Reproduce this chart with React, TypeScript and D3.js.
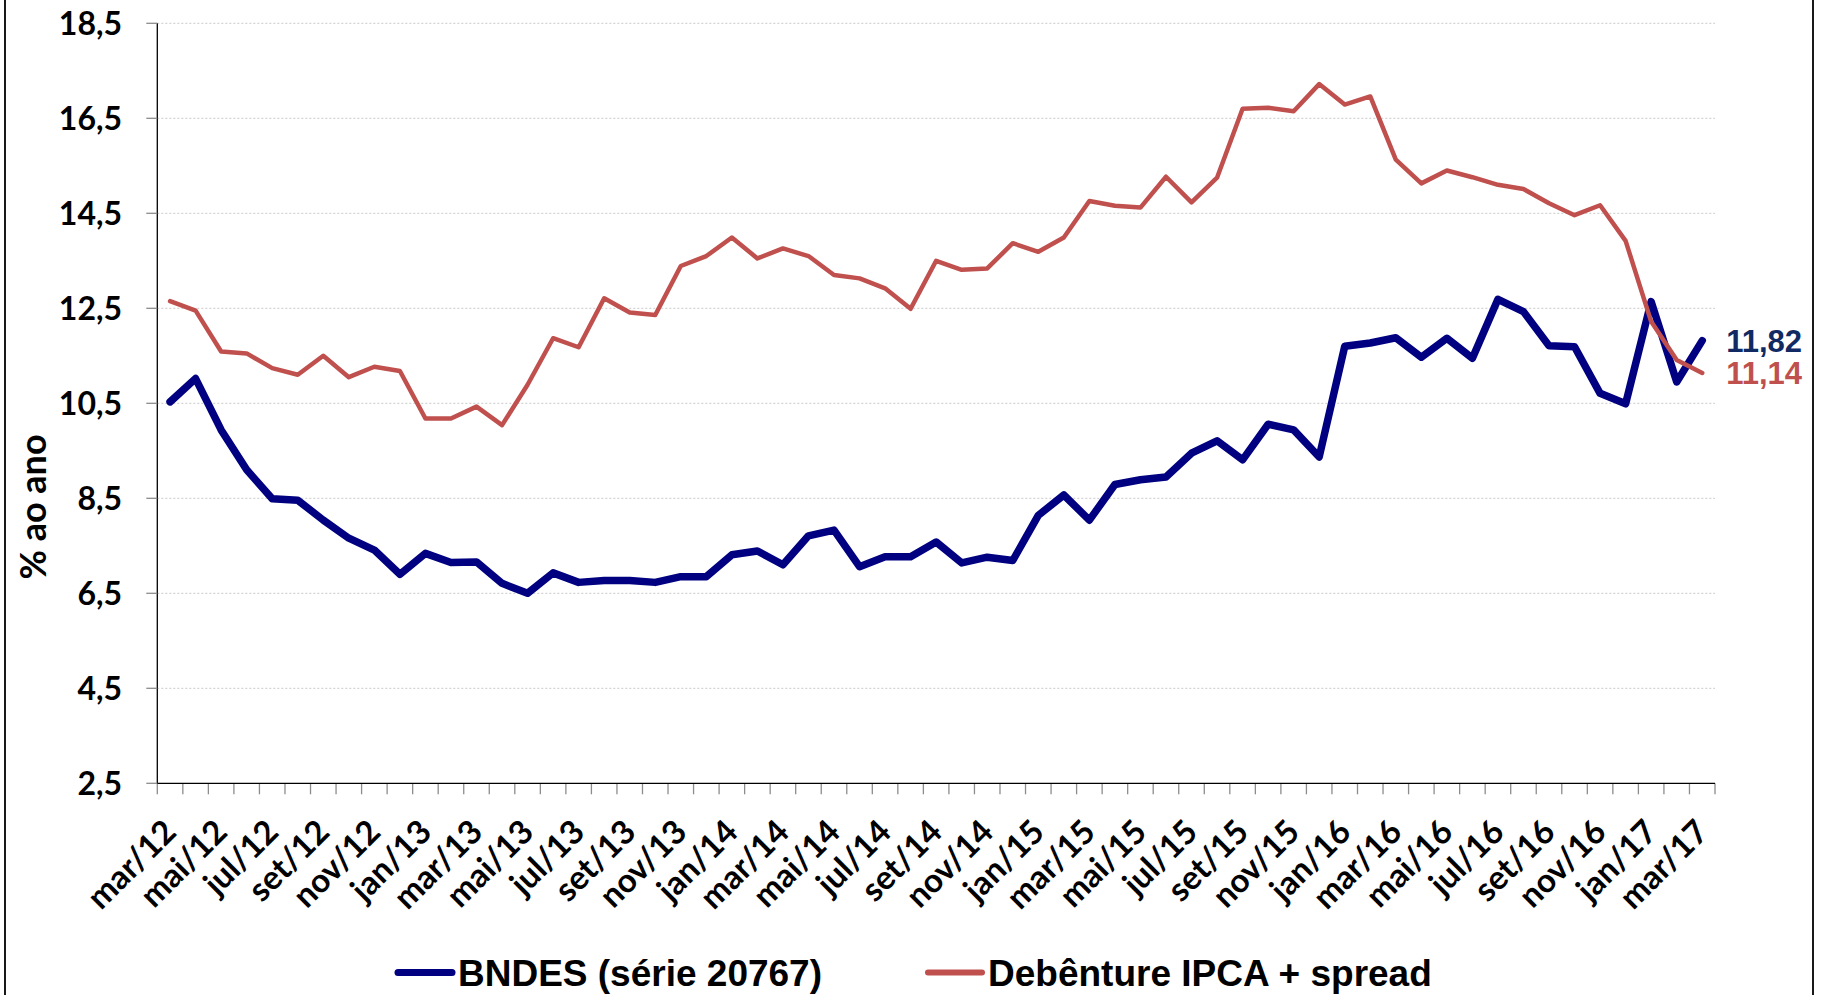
import React, { useEffect, useRef } from "react";
import * as d3 from "d3";

// ── Layout ────────────────────────────────────────────────────────────────────

const WIDTH = 1822;
const HEIGHT = 995;
const PLOT = { left: 157.3, right: 1715, top: 23.3, bottom: 783.3 };

const TICK_FONT = "Lato, 'Open Sans', sans-serif";
const LEGEND_FONT = "'Liberation Sans', Arial, sans-serif";
const BLUE = "#000080";
const RED = "#c0504d";
const LABEL_BLUE = "#112a63";

// ── Data ──────────────────────────────────────────────────────────────────────

const CATEGORIES = [
  "mar/12", "abr/12", "mai/12", "jun/12", "jul/12", "ago/12", "set/12", "out/12", "nov/12", "dez/12",
  "jan/13", "fev/13", "mar/13", "abr/13", "mai/13", "jun/13", "jul/13", "ago/13", "set/13", "out/13", "nov/13", "dez/13",
  "jan/14", "fev/14", "mar/14", "abr/14", "mai/14", "jun/14", "jul/14", "ago/14", "set/14", "out/14", "nov/14", "dez/14",
  "jan/15", "fev/15", "mar/15", "abr/15", "mai/15", "jun/15", "jul/15", "ago/15", "set/15", "out/15", "nov/15", "dez/15",
  "jan/16", "fev/16", "mar/16", "abr/16", "mai/16", "jun/16", "jul/16", "ago/16", "set/16", "out/16", "nov/16", "dez/16",
  "jan/17", "fev/17", "mar/17",
];

const BNDES = [
  10.53, 11.02, 9.94, 9.1, 8.49, 8.46, 8.04, 7.66, 7.41, 6.9,
  7.34, 7.15, 7.16, 6.71, 6.5, 6.93, 6.73, 6.77, 6.77, 6.73, 6.85, 6.85,
  7.31, 7.39, 7.1, 7.71, 7.83, 7.06, 7.27, 7.27, 7.58, 7.14, 7.26, 7.19,
  8.14, 8.57, 8.04, 8.79, 8.89, 8.95, 9.45, 9.71, 9.31, 10.06, 9.94, 9.37,
  11.7, 11.77, 11.88, 11.47, 11.87, 11.45, 12.69, 12.43, 11.71, 11.69, 10.71, 10.49,
  12.64, 10.95, 11.82,
];

const DEBENTURE = [
  12.65, 12.45, 11.59, 11.55, 11.24, 11.1, 11.5, 11.05, 11.27, 11.18,
  10.18, 10.18, 10.43, 10.04, 10.89, 11.87, 11.68, 12.71, 12.41, 12.36, 13.39, 13.6,
  13.99, 13.55, 13.76, 13.6, 13.2, 13.13, 12.92, 12.49, 13.5, 13.31, 13.34, 13.87,
  13.69, 13.99, 14.76, 14.66, 14.62, 15.27, 14.73, 15.25, 16.7, 16.72, 16.65, 17.22,
  16.79, 16.96, 15.63, 15.13, 15.4, 15.26, 15.1, 15.01, 14.71, 14.46, 14.67, 13.92,
  12.22, 11.41, 11.14,
];

const Y_TICKS = [2.5, 4.5, 6.5, 8.5, 10.5, 12.5, 14.5, 16.5, 18.5];
const SERIES_NAMES = ["BNDES (série 20767)", "Debênture IPCA + spread"];

const fmt1 = (v: number) => v.toFixed(1).replace(".", ",");
const fmt2 = (v: number) => v.toFixed(2).replace(".", ",");

// ── Renderer ──────────────────────────────────────────────────────────────────

function renderChart(svgEl: SVGSVGElement) {
  const svg = d3.select(svgEl);
  svg.selectAll("*").remove();

  const x = d3
    .scaleBand<string>()
    .domain(CATEGORIES)
    .range([PLOT.left, PLOT.right]);
  const cx = (c: string) => (x(c) ?? 0) + x.bandwidth() / 2;

  const y = d3
    .scaleLinear()
    .domain([Y_TICKS[0], Y_TICKS[Y_TICKS.length - 1]])
    .range([PLOT.bottom, PLOT.top]);

  svg.append("rect").attr("width", WIDTH).attr("height", HEIGHT).attr("fill", "#fff");

  // outer chart border (top and bottom fall outside the picture)
  svg
    .append("rect")
    .attr("x", 5)
    .attr("y", -10)
    .attr("width", 1808)
    .attr("height", HEIGHT + 20)
    .attr("fill", "none")
    .attr("stroke", "#000")
    .attr("stroke-width", 1.8);

  // gridlines
  svg
    .append("g")
    .selectAll("line")
    .data(Y_TICKS.slice(1))
    .join("line")
    .attr("x1", PLOT.left)
    .attr("x2", PLOT.right)
    .attr("y1", (d) => y(d))
    .attr("y2", (d) => y(d))
    .attr("stroke", "#c8c8c8")
    .attr("stroke-width", 1)
    .attr("stroke-dasharray", "2,2");

  // y axis
  const yAxis = svg.append("g");
  yAxis
    .append("line")
    .attr("x1", PLOT.left)
    .attr("x2", PLOT.left)
    .attr("y1", PLOT.top)
    .attr("y2", PLOT.bottom)
    .attr("stroke", "#000")
    .attr("stroke-width", 1.3);
  yAxis
    .selectAll("line.tick")
    .data(Y_TICKS)
    .join("line")
    .attr("class", "tick")
    .attr("x1", PLOT.left - 11)
    .attr("x2", PLOT.left)
    .attr("y1", (d) => y(d))
    .attr("y2", (d) => y(d))
    .attr("stroke", "#8c8c8c")
    .attr("stroke-width", 1.3);
  yAxis
    .selectAll("text")
    .data(Y_TICKS)
    .join("text")
    .attr("x", 122)
    .attr("y", (d) => y(d))
    .attr("dy", "0.36em")
    .attr("text-anchor", "end")
    .attr("font-family", TICK_FONT)
    .attr("font-weight", 700)
    .attr("font-size", 32)
    .attr("fill", "#000")
    .text((d) => fmt1(d));

  svg
    .append("text")
    .attr("transform", `translate(46,507) rotate(-90)`)
    .attr("text-anchor", "middle")
    .attr("font-family", TICK_FONT)
    .attr("font-weight", 700)
    .attr("font-size", 36)
    .attr("fill", "#000")
    .text("% ao ano");

  // x axis
  const xAxis = svg.append("g");
  const edges = [...CATEGORIES.map((c) => x(c) ?? 0), PLOT.right];
  xAxis
    .selectAll("line.tick")
    .data(edges)
    .join("line")
    .attr("class", "tick")
    .attr("x1", (d) => d)
    .attr("x2", (d) => d)
    .attr("y1", PLOT.bottom)
    .attr("y2", PLOT.bottom + 11)
    .attr("stroke", "#8c8c8c")
    .attr("stroke-width", 1.3);
  xAxis
    .append("line")
    .attr("x1", PLOT.left)
    .attr("x2", PLOT.right)
    .attr("y1", PLOT.bottom)
    .attr("y2", PLOT.bottom)
    .attr("stroke", "#000")
    .attr("stroke-width", 1.3);
  xAxis
    .selectAll("text")
    .data(CATEGORIES.filter((_, i) => i % 2 === 0))
    .join("text")
    .attr("transform", (d) => `translate(${cx(d) + 8},834) rotate(-45)`)
    .attr("text-anchor", "end")
    .attr("font-family", TICK_FONT)
    .attr("font-weight", 700)
    .attr("font-size", 33)
    .attr("fill", "#000")
    .text((d) => d);

  // series lines (red drawn last, on top)
  const line = (vals: number[]) =>
    d3
      .line<number>()
      .x((_, i) => cx(CATEGORIES[i]))
      .y((d) => y(d))(vals) ?? "";

  svg
    .append("path")
    .attr("d", line(BNDES))
    .attr("fill", "none")
    .attr("stroke", BLUE)
    .attr("stroke-width", 7.5)
    .attr("stroke-linejoin", "round")
    .attr("stroke-linecap", "round");
  svg
    .append("path")
    .attr("d", line(DEBENTURE))
    .attr("fill", "none")
    .attr("stroke", RED)
    .attr("stroke-width", 4.5)
    .attr("stroke-linejoin", "round")
    .attr("stroke-linecap", "round");

  // end-of-series value labels
  const last = CATEGORIES[CATEGORIES.length - 1];
  [
    { v: BNDES[BNDES.length - 1], color: LABEL_BLUE },
    { v: DEBENTURE[DEBENTURE.length - 1], color: RED },
  ].forEach(({ v, color }) => {
    svg
      .append("text")
      .attr("x", cx(last) + 24)
      .attr("y", y(v))
      .attr("dy", "0.36em")
      .attr("font-family", LEGEND_FONT)
      .attr("font-weight", 700)
      .attr("font-size", 31)
      .attr("fill", color)
      .text(fmt2(v));
  });

  // legend
  const legend = svg.append("g");
  [
    { name: SERIES_NAMES[0], color: BLUE, x: 398, w: 7 },
    { name: SERIES_NAMES[1], color: RED, x: 928, w: 6 },
  ].forEach(({ name, color, x: lx, w }) => {
    legend
      .append("line")
      .attr("x1", lx)
      .attr("x2", lx + 54)
      .attr("y1", 972.5)
      .attr("y2", 972.5)
      .attr("stroke", color)
      .attr("stroke-width", w)
      .attr("stroke-linecap", "round");
    legend
      .append("text")
      .attr("x", lx + 60)
      .attr("y", 986)
      .attr("font-family", LEGEND_FONT)
      .attr("font-weight", 700)
      .attr("font-size", 37)
      .attr("fill", "#000")
      .text(name);
  });
}

// ── Component ─────────────────────────────────────────────────────────────────

export default function App() {
  const svgRef = useRef<SVGSVGElement>(null);

  useEffect(() => {
    if (svgRef.current) renderChart(svgRef.current);
  }, []);

  return (
    <svg
      ref={svgRef}
      width={WIDTH}
      height={HEIGHT}
      style={{ position: "absolute", left: 0, top: 0, display: "block" }}
    />
  );
}
